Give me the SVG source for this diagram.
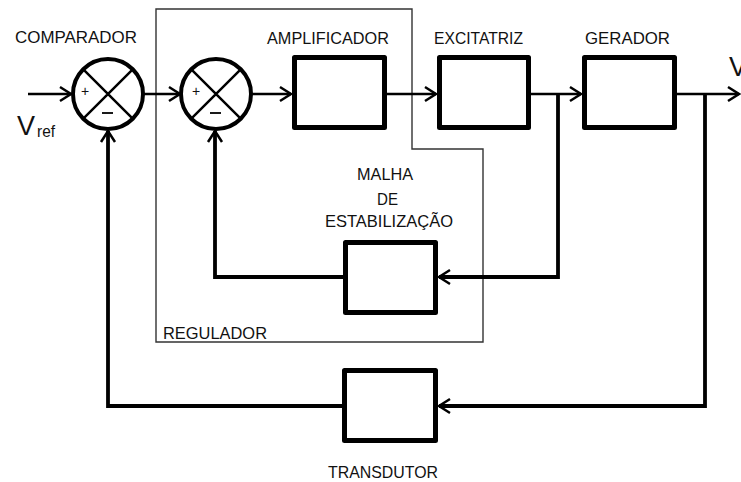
<svg xmlns="http://www.w3.org/2000/svg" width="741" height="482" viewBox="0 0 741 482">
<defs>
<style>
.t{font-family:"Liberation Sans",Arial,sans-serif;font-size:16.5px;fill:#111}
.blk{fill:#fff;stroke:#000;stroke-width:5;stroke-linejoin:round}
.sum{fill:#fff;stroke:#000;stroke-width:4}
.x{stroke:#000;stroke-width:2.5}
.c{fill:none;stroke:#000;stroke-width:2.7;stroke-linejoin:miter}
.f{fill:none;stroke:#000;stroke-width:3.8;stroke-linejoin:miter}
</style>
<marker id="ar" markerUnits="userSpaceOnUse" markerWidth="16" markerHeight="18" viewBox="-13 -9 16 18" refX="0" refY="0" orient="auto">
<path d="M-11,-7 L0,0 L-11,7" fill="none" stroke="#000" stroke-width="2.5"/>
</marker>
</defs>
<rect width="741" height="482" fill="#fff"/>

<g id="regulador">
<path d="M156,9 H412 V149 H483 V342 H156 Z" fill="none" stroke="#333" stroke-width="1.4"/>
<text class="t" x="163" y="339" textLength="104" lengthAdjust="spacingAndGlyphs">REGULADOR</text>
</g>

<g id="connectors">
<path class="c" d="M28,94 H71" marker-end="url(#ar)"/>
<path class="c" d="M144,94 H180" marker-end="url(#ar)"/>
<path class="c" d="M252,94 H291" marker-end="url(#ar)"/>
<path class="c" d="M387,94 H436" marker-end="url(#ar)"/>
<path class="c" d="M531,94 H581" marker-end="url(#ar)"/>
<path class="c" d="M677,94 H739" marker-end="url(#ar)"/>
<path class="f" d="M558,94 V277 H439" marker-end="url(#ar)"/>
<path class="f" d="M343,277 H215 V131" marker-end="url(#ar)"/>
<path class="f" d="M705,94 V406 H439" marker-end="url(#ar)"/>
<path class="f" d="M343,406 H108 V131" marker-end="url(#ar)"/>
</g>

<g id="comparador">
<circle class="sum" cx="108" cy="94" r="35"/>
<path class="x" d="M83.3,69.3 L132.7,118.7 M132.7,69.3 L83.3,118.7"/>
<text class="t" x="85" y="96" text-anchor="middle" style="font-size:14px">+</text>
<path d="M102,113 H113" stroke="#000" stroke-width="1.8"/>
<text class="t" x="15" y="43" textLength="122" lengthAdjust="spacingAndGlyphs">COMPARADOR</text>
</g>

<g id="vref">
<text class="t" x="17" y="135" style="font-size:27px">V</text>
<text class="t" x="37" y="137" style="font-size:16px" textLength="18" lengthAdjust="spacingAndGlyphs">ref</text>
</g>

<g id="somador2">
<circle class="sum" cx="216" cy="94" r="35"/>
<path class="x" d="M191.3,69.3 L240.7,118.7 M240.7,69.3 L191.3,118.7"/>
<text class="t" x="196" y="96" text-anchor="middle" style="font-size:14px">+</text>
<path d="M210,113 H221" stroke="#000" stroke-width="1.8"/>
</g>

<g id="amplificador">
<rect class="blk" x="294.5" y="57.5" width="90" height="70"/>
<text class="t" x="267" y="44" textLength="122" lengthAdjust="spacingAndGlyphs">AMPLIFICADOR</text>
</g>

<g id="excitatriz">
<rect class="blk" x="439.5" y="57.5" width="89" height="70"/>
<text class="t" x="434" y="44" textLength="89" lengthAdjust="spacingAndGlyphs">EXCITATRIZ</text>
</g>

<g id="gerador">
<rect class="blk" x="584.5" y="57.5" width="90" height="70"/>
<text class="t" x="585" y="44" textLength="85" lengthAdjust="spacingAndGlyphs">GERADOR</text>
</g>

<g id="saida">
<text class="t" x="729" y="76" style="font-size:27px">V</text>
</g>

<g id="malha">
<rect class="blk" x="345.5" y="242.5" width="90" height="70"/>
<text class="t" x="357" y="180" textLength="56" lengthAdjust="spacingAndGlyphs">MALHA</text>
<text class="t" x="377" y="205" textLength="21" lengthAdjust="spacingAndGlyphs">DE</text>
<text class="t" x="325" y="227" textLength="128" lengthAdjust="spacingAndGlyphs">ESTABILIZAÇÃO</text>
</g>

<g id="transdutor">
<rect class="blk" x="344.5" y="370.5" width="91" height="70"/>
<text class="t" x="328" y="478" textLength="110" lengthAdjust="spacingAndGlyphs">TRANSDUTOR</text>
</g>
</svg>
